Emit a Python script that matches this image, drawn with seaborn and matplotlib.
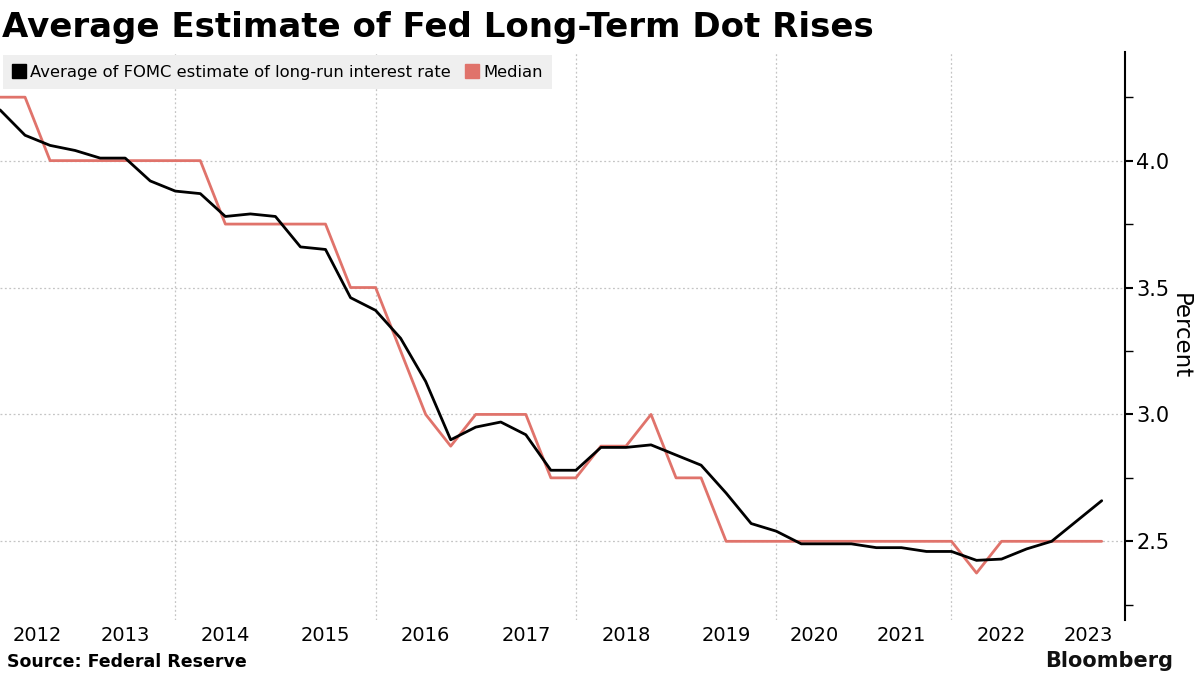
import numpy as np
import pandas as pd
import seaborn as sns
import matplotlib.pyplot as plt
from matplotlib.lines import Line2D

# FOMC Summary of Economic Projections meetings (2020 March SEP was cancelled)
meetings = [
    "2012-04", "2012-06", "2012-09", "2012-12",
    "2013-03", "2013-06", "2013-09", "2013-12",
    "2014-03", "2014-06", "2014-09", "2014-12",
    "2015-03", "2015-06", "2015-09", "2015-12",
    "2016-03", "2016-06", "2016-09", "2016-12",
    "2017-03", "2017-06", "2017-09", "2017-12",
    "2018-03", "2018-06", "2018-09", "2018-12",
    "2019-03", "2019-06", "2019-09", "2019-12",
    "2020-06", "2020-09", "2020-12",
    "2021-03", "2021-06", "2021-09", "2021-12",
    "2022-03", "2022-06", "2022-09", "2022-12",
    "2023-03", "2023-06",
]
average_rate = [
    4.20, 4.10, 4.06, 4.04, 4.01, 4.01, 3.92, 3.88, 3.87, 3.78,
    3.79, 3.78, 3.66, 3.65, 3.46, 3.41, 3.30, 3.13, 2.90, 2.95,
    2.97, 2.92, 2.78, 2.78, 2.87, 2.87, 2.88, 2.84, 2.80, 2.69,
    2.57, 2.54, 2.49, 2.49, 2.49, 2.475, 2.475, 2.46, 2.46, 2.425,
    2.43, 2.47, 2.50, 2.58, 2.66,
]
median_rate = [
    4.25, 4.25, 4.0, 4.0, 4.0, 4.0, 4.0, 4.0, 4.0, 3.75,
    3.75, 3.75, 3.75, 3.75, 3.5, 3.5, 3.25, 3.0, 2.875, 3.0,
    3.0, 3.0, 2.75, 2.75, 2.875, 2.875, 3.0, 2.75, 2.75, 2.5,
    2.5, 2.5, 2.5, 2.5, 2.5, 2.5, 2.5, 2.5, 2.5, 2.375,
    2.5, 2.5, 2.5, 2.5, 2.5,
]
year_labels = ["2012", "2013", "2014", "2015", "2016", "2017", "2018",
               "2019", "2020", "2021", "2022", "2023"]
y_ticks = [2.5, 3.0, 3.5, 4.0]

avg_color = "#000000"
med_color = "#e0736b"
grid_color = "#c4c4c4"

df = pd.DataFrame({"meeting": meetings, "Average": average_rate, "Median": median_rate})
df["idx"] = np.arange(len(df))
df["year"] = df["meeting"].str[:4]

sns.set_theme(style="white")
plt.rcParams["font.family"] = ["DejaVu Sans"]
plt.rcParams["text.color"] = "black"
plt.rcParams["axes.labelcolor"] = "black"

fig = plt.figure(figsize=(12, 6.75), dpi=100)
ax = fig.add_axes([0.0, 0.0815, 0.9375, 0.8422])

sns.lineplot(data=df, x="idx", y="Median", color=med_color, lw=2, ax=ax)
sns.lineplot(data=df, x="idx", y="Average", color=avg_color, lw=2, ax=ax)

x_right = len(df) - 1 + 0.93
ax.set_xlim(0, x_right)
ax.set_ylim(2.19, 4.43)

# year boundaries = last meeting of each year
last_idx = df.groupby("year")["idx"].max()
bounds = [0] + list(last_idx.values[:-1]) + [x_right]
centers = [(bounds[k] + bounds[k + 1]) / 2 for k in range(len(year_labels))]
ax.set_xticks(centers)
ax.set_xticklabels(year_labels)
for yr, i in last_idx.items():
    if int(yr) % 2 == 1 and yr != "2023":
        ax.axvline(i, color=grid_color, lw=0.9, ls=(0, (1.5, 2)), zorder=0)

ax.yaxis.tick_right()
ax.yaxis.set_label_position("right")
ax.set_yticks(y_ticks)
ax.set_yticks(np.arange(2.25, 4.3, 0.5), minor=True)
ax.yaxis.set_major_formatter("{x:.1f}")
ax.grid(axis="y", which="major", color=grid_color, lw=0.9, ls=(0, (1.5, 2)))
ax.tick_params(axis="y", which="major", length=6, width=1.5, direction="out",
               labelsize=15, pad=2, colors="black", right=True)
ax.tick_params(axis="y", which="minor", length=6, width=1, direction="out",
               right=True, colors="black")
ax.tick_params(axis="x", length=0, labelsize=14, pad=4, colors="black")
ax.set_xlabel("")
ax.set_ylabel("Percent", fontsize=16.5, rotation=270, labelpad=16)

for side in ["top", "left", "bottom"]:
    ax.spines[side].set_visible(False)
ax.spines["right"].set_color("black")
ax.spines["right"].set_linewidth(1.5)

handles = [
    Line2D([], [], marker="s", ls="none", color=avg_color, markersize=10),
    Line2D([], [], marker="s", ls="none", color=med_color, markersize=10),
]
leg = ax.legend(handles, ["Average of FOMC estimate of long-run interest rate", "Median"],
                loc="upper left", bbox_to_anchor=(0, 1), ncol=2, fontsize=11.8,
                frameon=True, fancybox=False, facecolor="#efefef", edgecolor="none",
                framealpha=1, borderaxespad=0.2, handlelength=0.7, handletextpad=0.3,
                columnspacing=1.0, borderpad=0.6)

fig.text(0.002, 0.945, "Average Estimate of Fed Long-Term Dot Rises", fontsize=24.5,
         fontweight="bold", ha="left", va="baseline", color="black")
fig.text(0.006, 0.012, "Source: Federal Reserve", fontsize=12.5, fontweight="bold",
         ha="left", va="baseline", color="black")
fig.text(0.978, 0.012, "Bloomberg", fontsize=15, fontweight="bold", ha="right",
         va="baseline", color="#111111")

fig.savefig("out.png", dpi=100, facecolor="white")
